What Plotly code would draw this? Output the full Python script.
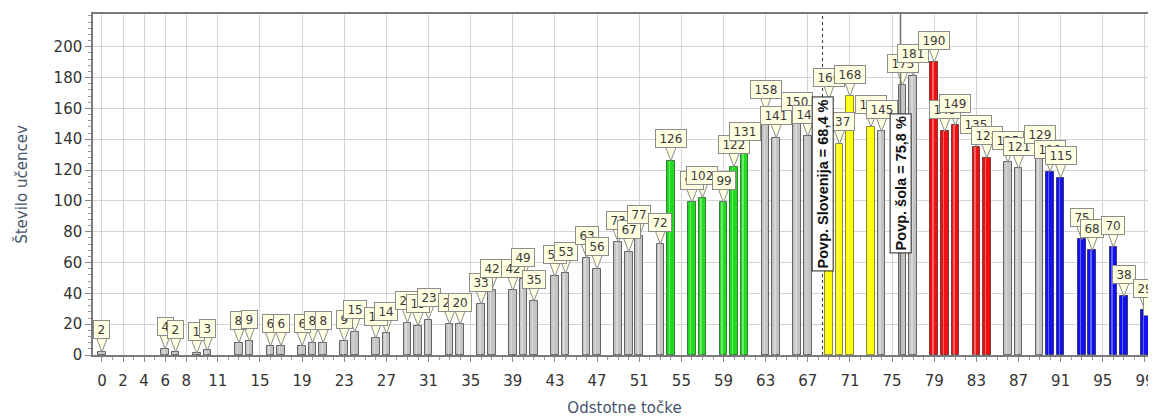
import plotly.graph_objects as go

# ---------------- data ----------------
points = [0, 6, 7, 9, 10, 13, 14, 16, 17, 19, 20, 21, 23, 24, 26, 27, 29, 30, 31,
          33, 34, 36, 37, 39, 40, 41, 43, 44, 46, 47, 49, 50, 51, 53, 54, 56, 57,
          59, 60, 61, 63, 64, 66, 67, 69, 70, 71, 73, 74, 76, 77, 79, 80, 81, 83,
          84, 86, 87, 89, 90, 91, 93, 94, 96, 97, 99, 100]
students = [2, 4, 2, 1, 3, 8, 9, 6, 6, 6, 8, 8, 9, 15, 11, 14, 21, 19, 23,
            20, 20, 33, 42, 42, 49, 35, 51, 53, 63, 56, 73, 67, 77, 72, 126, 99, 102,
            99, 122, 131, 158, 141, 150, 142, 166, 137, 168, 148, 145, 175, 181, 190, 145, 149, 135,
            128, 125, 121, 129, 119, 115, 75, 68, 70, 38, 29, 17]
x_ticks = [0, 2, 4, 6, 8] + list(range(11, 100, 4))
y_ticks = list(range(0, 201, 20))
avg_slovenia = 68.4
avg_school = 75.8
label_slovenia = "Povp. Slovenija = 68,4 %"
label_school = "Povp. šola = 75,8 %"

# ---------------- style ----------------
# page body has an 8px margin, so the figure is drawn 8px in from the window corner
W, H = 1148, 409
ML, MR, MT, MB = 85, 0, 6, 62
XR = [-0.85, 100.05]
YR = [0, 221.2]
px_x = (W - ML - MR) / (XR[1] - XR[0])
px_y = (H - MT - MB) / (YR[1] - YR[0])

bands = [  # (from, to, fill, outline)
    (54, 61, "#1fdc1f", "#3a7a3a"),
    (69, 73, "#ffff00", "#8a8a40"),
    (79, 84, "#f01010", "#7a3a3a"),
    (90, 100, "#1010f0", "#3a3a7a"),
]


def bar_color(p):
    for a, b, c, _ in bands:
        if a <= p <= b:
            return c
    return "#c4c4c4"


def bar_line(p):
    for a, b, _, l in bands:
        if a <= p <= b:
            return l
    return "#646464"


fig = go.Figure()
fig.add_trace(go.Bar(
    x=points, y=students, width=0.72,
    marker=dict(color=[bar_color(p) for p in points],
                line=dict(color=[bar_line(p) for p in points], width=1)),
    hoverinfo="x+y", showlegend=False,
))
# cylinder highlight
fig.add_trace(go.Bar(
    x=points, y=students, width=0.14, offset=-0.2,
    marker=dict(color="rgba(255,255,255,0.35)", line=dict(width=0)),
    hoverinfo="skip", showlegend=False,
))

# callout pointers
dy = 13 / px_y
dx = 5 / px_x
px_list, py_list = [], []
for p, v in zip(points, students):
    px_list += [p - dx, p, p + dx, None]
    py_list += [v + dy, v, v + dy, None]
fig.add_trace(go.Scatter(
    x=px_list, y=py_list, mode="lines", fill="toself",
    fillcolor="#ffffe1", line=dict(color="#8c8c8c", width=1),
    hoverinfo="skip", showlegend=False,
))

annotations = []
for p, v in zip(points, students):
    t = str(v)
    annotations.append(dict(
        x=p, y=v, xref="x", yref="y", text=t, showarrow=False,
        yshift=22, bgcolor="#ffffe1", bordercolor="#8c8c8c", borderwidth=1,
        borderpad=1, width=7.6 * len(t) + 5, height=15,
        font=dict(family="DejaVu Sans", size=12, color="#3a3a3a"),
    ))

for xv, txt in [(avg_slovenia, label_slovenia), (avg_school, label_school)]:
    annotations.append(dict(
        x=xv, y=111, xref="x", yref="y", text="<b>" + txt + "</b>",
        showarrow=False, textangle=-90, bgcolor="white", bordercolor="#202020",
        borderwidth=1, borderpad=2,
        font=dict(family="Liberation Sans", size=14.5, color="#111111"),
    ))

shapes = [
    dict(type="line", xref="x", yref="paper", x0=avg_slovenia, x1=avg_slovenia,
         y0=0, y1=1, line=dict(color="#303030", width=1, dash="dot")),
    dict(type="line", xref="x", yref="paper", x0=avg_school, x1=avg_school,
         y0=0, y1=1, line=dict(color="#707070", width=1.5)),
]

tickfont = dict(family="DejaVu Sans", size=15, color="#333333")
titlefont = dict(family="DejaVu Sans", size=15, color="#46546a")

fig.update_layout(
    width=W, height=H,
    margin=dict(l=ML, r=MR, t=MT, b=MB, autoexpand=False),
    paper_bgcolor="white", plot_bgcolor="white",
    barmode="overlay", bargap=0,
    annotations=annotations, shapes=shapes,
    xaxis=dict(
        range=XR, tickmode="array", tickvals=x_ticks,
        ticktext=[str(t) for t in x_ticks],
        showgrid=True, gridcolor="#d4d4d4", gridwidth=1,
        zeroline=False, showline=True, linecolor="#7a7a7a", linewidth=1.5,
        mirror=True, ticks="outside", ticklen=5, tickcolor="#8a8a8a",
        tickfont=tickfont, ticklabelstandoff=6, ticklabeloverflow="allow",
        minor=dict(tickmode="linear", tick0=0, dtick=1, ticks="outside",
                   ticklen=3, tickcolor="#9a9a9a", showgrid=False),
        title=dict(text="Odstotne točke", font=titlefont, standoff=14),
    ),
    yaxis=dict(
        range=YR, tickmode="array", tickvals=y_ticks,
        showgrid=True, gridcolor="#d4d4d4", gridwidth=1,
        zeroline=False, showline=True, linecolor="#7a7a7a", linewidth=1.5,
        mirror=True, ticks="outside", ticklen=6, tickcolor="#8a8a8a",
        tickfont=tickfont,
        minor=dict(tickmode="linear", tick0=0, dtick=4, ticks="outside",
                   ticklen=3, tickcolor="#9a9a9a", showgrid=False),
        title=dict(text="Število učencev", font=titlefont, standoff=22),
    ),
)

fig.write_html("out.html")
